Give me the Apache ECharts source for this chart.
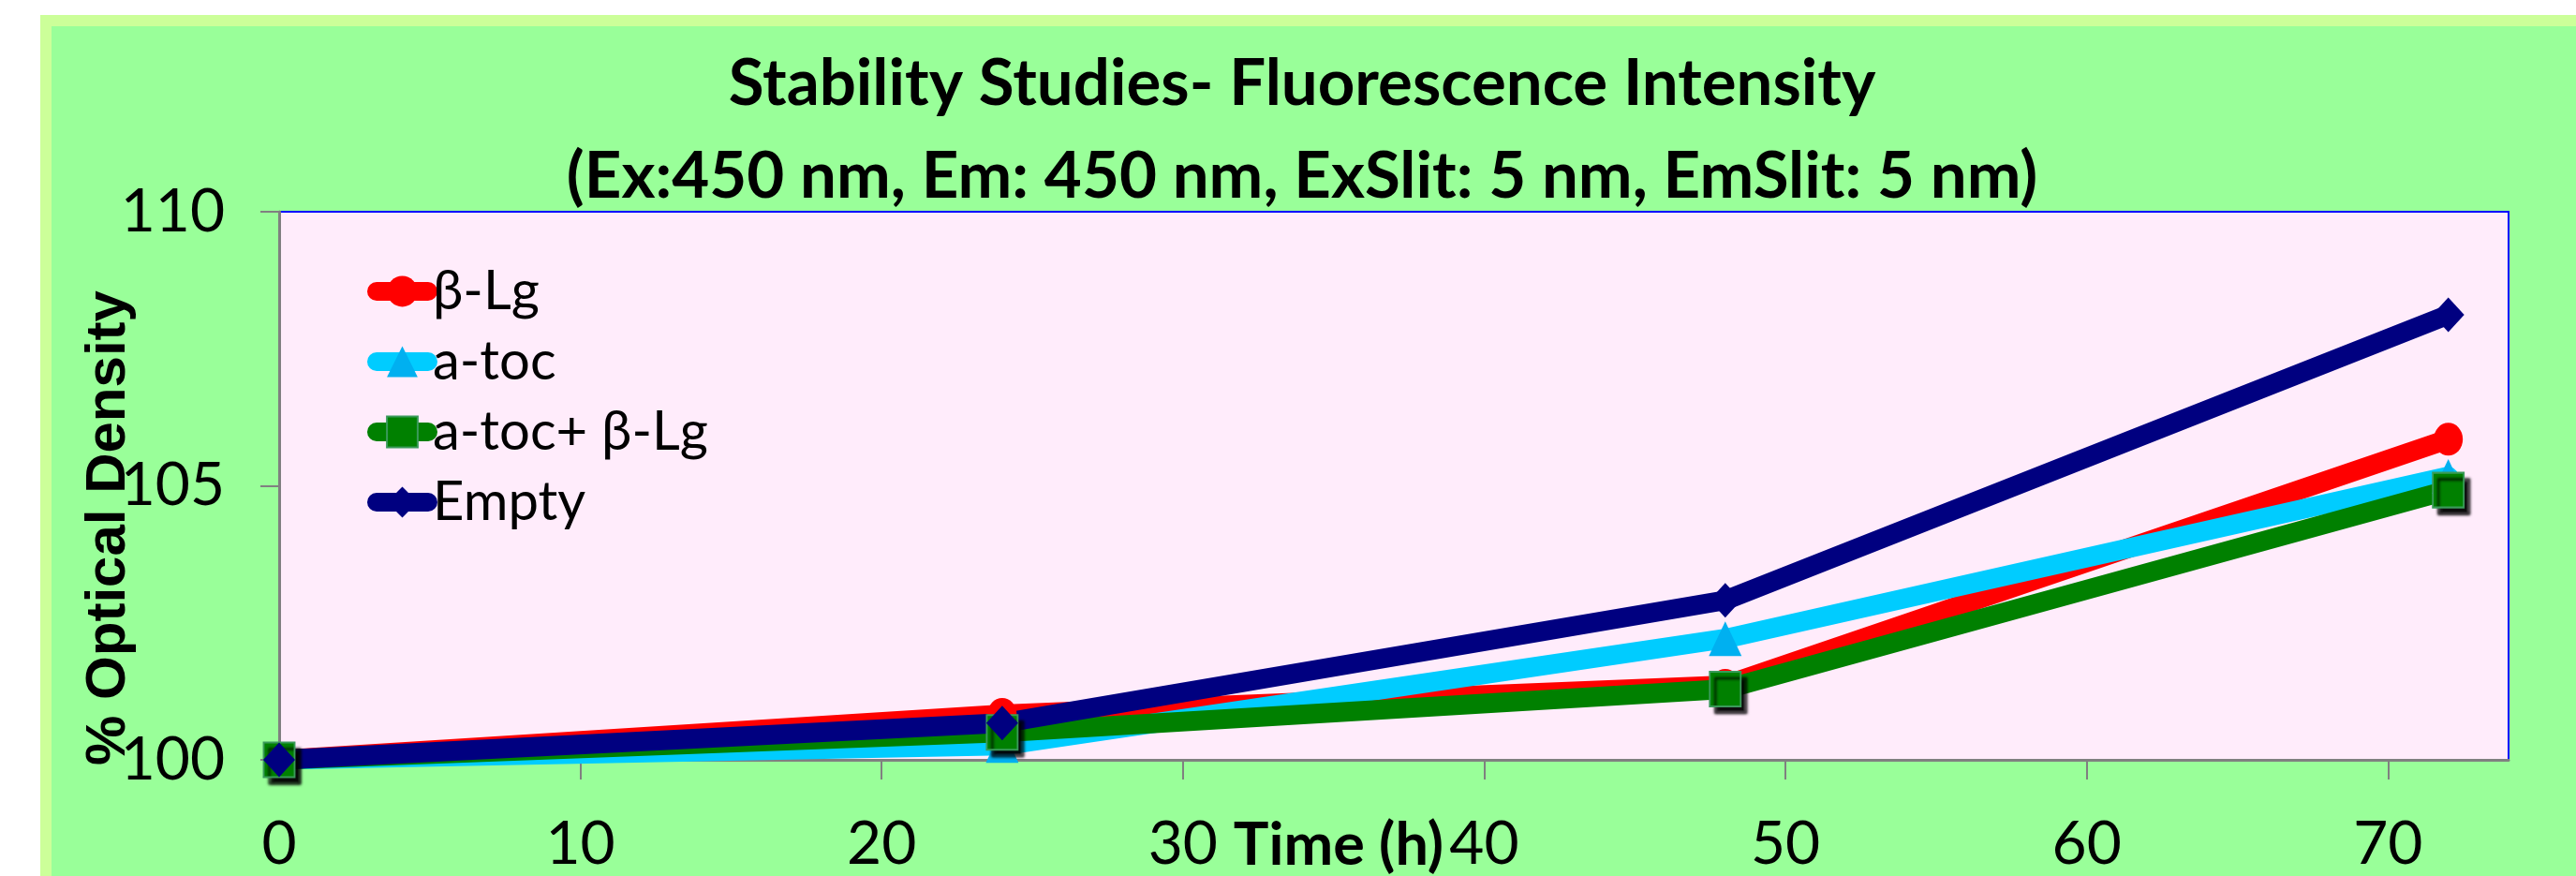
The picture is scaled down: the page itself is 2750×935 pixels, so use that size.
<!DOCTYPE html>
<html><head><meta charset="utf-8">
<script src="https://cdn.jsdelivr.net/npm/echarts@6/dist/echarts.min.js"></script>
<style>html,body{margin:0;padding:0;background:#fff;} #c{width:2750px;height:935px;}</style>
</head><body><div id="c"></div>
<script>
const timeHours = [0, 24, 48, 72];
const seriesNames = ['β-Lg', 'a-toc', 'a-toc+ β-Lg', 'Empty'];
const betaLg = [100, 100.83, 101.36, 105.85];
const aToc = [100, 100.26, 102.21, 105.17];
const aTocBetaLg = [100, 100.5, 101.29, 104.92];
const empty = [100, 100.67, 102.91, 108.12];
const xTicks = [0, 10, 20, 30, 40, 50, 60, 70];
const yTicks = [100, 105, 110];
const titleLines = ['Stability Studies- Fluorescence Intensity', '(Ex:450 nm, Em: 450 nm, ExSlit: 5 nm, EmSlit: 5 nm)'];
const xName = 'Time (h)';
const yName = '% Optical Density';

const pairs = arr => timeHours.map((t, i) => [t, arr[i]]);
const chart = echarts.init(document.getElementById('c'), null, {renderer: 'canvas'});
const FONT = 'Lato';
const mk = (name, arr, lineColor, markColor, symbol, size, extra) => Object.assign({
  type: 'line', name, data: pairs(arr), symbol, symbolSize: size,
  lineStyle: {color: lineColor, width: 21, cap: 'round', join: 'round'},
  itemStyle: {color: markColor},
  clip: false, animation: false, emphasis: {disabled: true}
}, extra || {});

chart.setOption({
  backgroundColor: '#ffffff',
  animation: false,
  graphic: [
    {type: 'rect', z: -100, shape: {x: 43, y: 16, width: 2707, height: 919}, style: {fill: '#CCFF99'}},
    {type: 'rect', z: -99, shape: {x: 55, y: 28, width: 2695, height: 907}, style: {fill: '#99FF99'}},
    {type: 'text', z: 10, x: 1390, y: 90, style: {text: titleLines[0], fill: '#000', font: 'bold 69px ' + FONT, align: 'center', verticalAlign: 'middle'}},
    {type: 'text', z: 10, x: 1390, y: 189, style: {text: titleLines[1], fill: '#000', font: 'bold 69px ' + FONT, align: 'center', verticalAlign: 'middle'}}
  ],
  grid: {left: 298, top: 226, right: 72, bottom: 124, containLabel: false, outerBoundsMode: 'none',
    show: true, backgroundColor: '#FFECFB', borderColor: '#0000FF', borderWidth: 2},
  legend: {
    left: 387, top: 277, orient: 'vertical', itemWidth: 55, itemHeight: 41, itemGap: 17,
    data: seriesNames,
    textStyle: {fontFamily: FONT, fontSize: 58, color: '#000'},
    itemStyle: {shadowBlur: 0, shadowOffsetX: 0, shadowOffsetY: 0, shadowColor: 'rgba(0,0,0,0)'},
    lineStyle: {width: 20, cap: 'round'},
    selectedMode: false
  },
  xAxis: {
    type: 'value', min: 0, max: 74, interval: 10,
    name: xName, nameLocation: 'middle', nameGap: 60, nameMoveOverlap: false,
    nameTextStyle: {fontFamily: FONT, fontWeight: 'bold', fontSize: 63, color: '#000', padding: [0, 118, 0, 0]},
    axisLine: {lineStyle: {color: '#808080', width: 3}},
    axisTick: {show: true, length: 21, lineStyle: {color: '#808080', width: 2}, customValues: xTicks},
    axisLabel: {fontFamily: FONT, fontSize: 64, color: '#000', margin: 58, customValues: xTicks},
    splitLine: {show: false}
  },
  yAxis: {
    type: 'value', min: 100, max: 110, interval: 5,
    name: yName, nameLocation: 'middle', nameGap: 152, nameRotate: 90, nameMoveOverlap: false,
    nameTextStyle: {fontFamily: 'Liberation Sans', fontWeight: 'bold', fontSize: 60, color: '#000', padding: [0, 90, 0, 0]},
    axisLine: {lineStyle: {color: '#808080', width: 3}},
    axisTick: {show: true, length: 20, lineStyle: {color: '#808080', width: 2}, customValues: yTicks},
    axisLabel: {fontFamily: FONT, fontSize: 64, color: '#000', margin: 58, customValues: yTicks},
    splitLine: {show: false}
  },
  series: [
    mk(seriesNames[0], betaLg, '#FF0000', '#FF0000', 'circle', [31, 35]),
    mk(seriesNames[1], aToc, '#00CCFF', '#00B0F0', 'triangle', [35, 37]),
    mk(seriesNames[2], aTocBetaLg, '#008000', '#008000', 'rect', [33, 37], {
      itemStyle: {color: '#008000', borderColor: '#3A9A5A', borderWidth: 2, shadowColor: 'rgba(0,0,0,0.95)', shadowBlur: 3, shadowOffsetX: 6, shadowOffsetY: 7}
    }),
    mk(seriesNames[3], empty, '#000080', '#000080', 'diamond', [34, 37])
  ]
});
</script></body></html>
